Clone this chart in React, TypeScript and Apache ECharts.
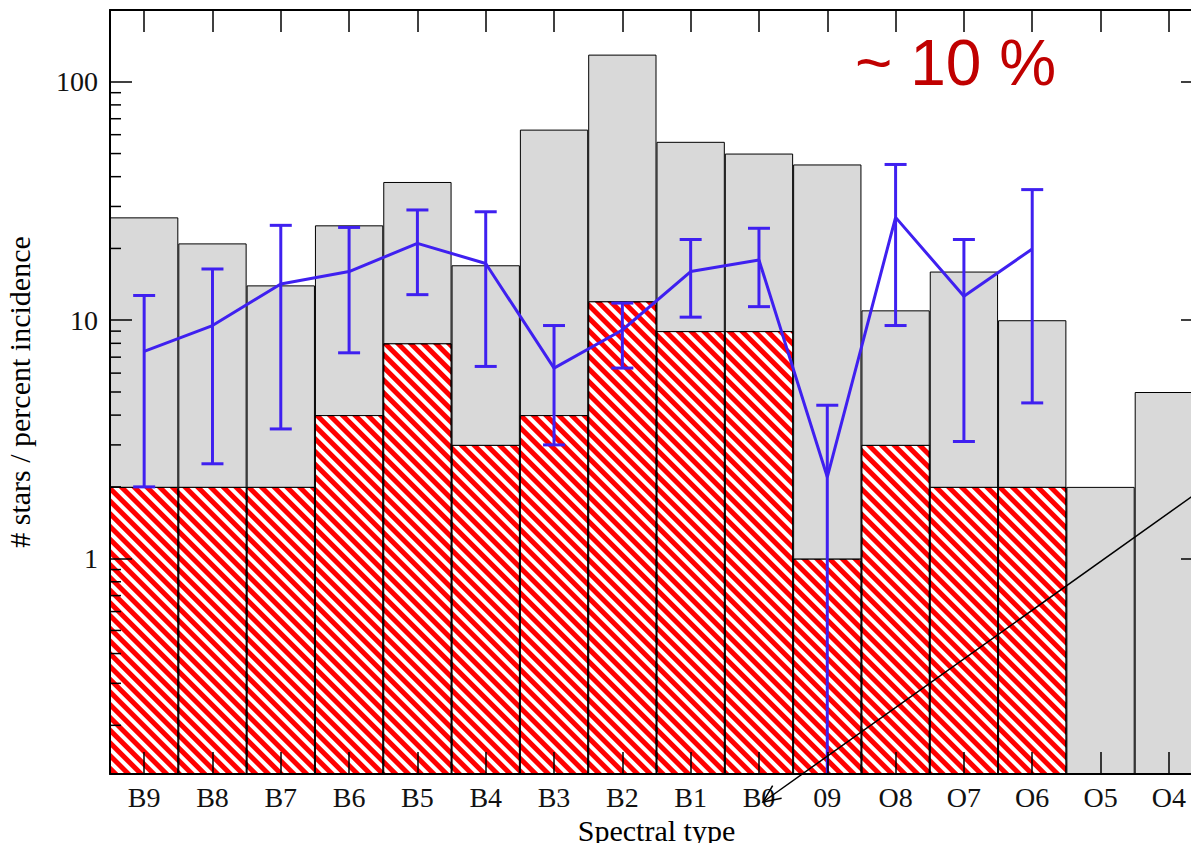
import React, { useEffect, useRef } from "react";
import * as echarts from "echarts";

// ---- data ----
const categories = ["B9", "B8", "B7", "B6", "B5", "B4", "B3", "B2", "B1", "B0", "09", "O8", "O7", "O6", "O5", "O4"];
const totalStars = [27, 21, 14, 25, 38, 17, 63, 130, 56, 50, 45, 11, 16, 10, 2, 5];
const hatchedStars = [2, 2, 2, 4, 8, 3, 4, 12, 9, 9, 1, 3, 2, 2, null, null];
const percentIncidence = [7.4, 9.5, 14.2, 16, 21, 17.3, 6.3, 9.1, 16, 17.9, 2.2, 27, 12.6, 19.9, null, null];
const errorLow = [2.0, 2.5, 3.5, 7.3, 12.8, 6.4, 3.0, 6.3, 10.3, 11.4, 0, 9.5, 3.1, 4.5, null, null];
const errorHigh = [12.7, 16.4, 25, 24.5, 29, 28.5, 9.5, 11.8, 21.8, 24.3, 4.4, 45, 21.8, 35.3, null, null];
const yMajorTicks = [1, 10, 100];
const yMinorTicks = [0.2, 0.3, 0.4, 0.5, 0.6, 0.7, 0.8, 0.9, 2, 3, 4, 5, 6, 7, 8, 9, 20, 30, 40, 50, 60, 70, 80, 90];
const Y_MIN = 0.125;
const Y_MAX = 200;

const SERIF = "'Liberation Serif', 'Times New Roman', serif";
const BLUE = "#3f20f0";
const GREY = "#d9d9d9";

// The plotted frame is wider than the visible page (cropped on the right).
const CHART_W = 1215;
const CHART_H = 843;

export default function App() {
  const ref = useRef<HTMLDivElement>(null);

  useEffect(() => {
    const chart = echarts.init(ref.current as HTMLDivElement, null, { renderer: "svg" });

    const isMajor = (v: number) => yMajorTicks.some((m) => Math.abs(v - m) / m < 1e-6);

    const errData = categories
      .map((_, i) => (errorHigh[i] == null ? null : [i, errorLow[i], errorHigh[i]]))
      .filter((d) => d !== null);

    const xAxisCommon = {
      type: "category",
      data: categories,
      boundaryGap: true,
      z: 10,
      axisLine: { show: true, lineStyle: { color: "#000", width: 2 } },
      axisTick: { show: true, inside: true, alignWithLabel: true, length: 22, lineStyle: { color: "#000", width: 1.5 } },
      splitLine: { show: false },
    };
    const yAxisCommon = {
      type: "log",
      logBase: 10,
      min: Y_MIN,
      max: Y_MAX,
      startValue: Y_MIN,
      z: 10,
      axisLine: { show: true, lineStyle: { color: "#000", width: 2 } },
      axisTick: { show: true, inside: true, length: 22, lineStyle: { color: "#000", width: 1.5 } },
      splitLine: { show: false },
      minorTick: { show: false },
    };

    const option: any = {
      animation: false,
      backgroundColor: "#fff",
      grid: { left: 110, top: 10, bottom: 69, right: 12, containLabel: false, outerBoundsMode: "none" },
      xAxis: [
        {
          ...xAxisCommon,
          position: "bottom",
          name: "Spectral type",
          nameLocation: "middle",
          nameGap: 39,
          nameTextStyle: { fontFamily: SERIF, fontSize: 30, color: "#000" },
          axisLabel: { show: true, fontFamily: SERIF, fontSize: 28, color: "#111", margin: 9 },
        },
        {
          ...xAxisCommon,
          position: "top",
          axisLabel: { show: false },
        },
      ],
      yAxis: [
        {
          ...yAxisCommon,
          position: "left",
          name: "# stars / percent incidence",
          nameLocation: "middle",
          nameGap: 76,
          nameTextStyle: { fontFamily: SERIF, fontSize: 30, color: "#000" },
          axisLabel: {
            show: true,
            fontFamily: SERIF,
            fontSize: 28,
            color: "#111",
            margin: 12,
            formatter: (v: number) => (isMajor(v) ? String(Math.round(v)) : ""),
          },
        },
        {
          ...yAxisCommon,
          position: "right",
          axisLabel: { show: false },
        },
      ],
      series: [
        {
          name: "total",
          type: "bar",
          xAxisIndex: 0,
          yAxisIndex: 0,
          data: totalStars,
          barGap: "-100%",
          barCategoryGap: "0%",
          z: 2,
          itemStyle: { color: GREY, borderColor: "#000", borderWidth: 1 },
        },
        {
          name: "hatched",
          type: "bar",
          xAxisIndex: 0,
          yAxisIndex: 0,
          data: hatchedStars,
          barGap: "-100%",
          barCategoryGap: "0%",
          z: 3,
          itemStyle: {
            color: "#ff0000",
            borderColor: "#000",
            borderWidth: 1,
            decal: {
              symbol: "rect",
              symbolSize: 1,
              color: "#ffffff",
              dashArrayX: [1, 0],
              dashArrayY: [4, 5],
              rotation: Math.PI / 4,
            },
          },
        },
        {
          name: "percent",
          type: "line",
          xAxisIndex: 0,
          yAxisIndex: 0,
          data: percentIncidence,
          symbol: "none",
          connectNulls: false,
          z: 6,
          lineStyle: { color: BLUE, width: 3 },
        },
        {
          name: "errors",
          type: "custom",
          xAxisIndex: 0,
          yAxisIndex: 0,
          z: 7,
          silent: true,
          encode: { x: 0, y: [1, 2] },
          data: errData,
          renderItem: (params: any, api: any) => {
            const cs = params.coordSys;
            const idx = api.value(0);
            const lowV = api.value(1);
            const highV = api.value(2);
            const top = api.coord([idx, highV]);
            const x = top[0];
            const yHigh = top[1];
            const yLow = lowV > 0 ? api.coord([idx, lowV])[1] : cs.y + cs.height;
            const half = 11;
            const st = { stroke: BLUE, lineWidth: 3 };
            const children: any[] = [
              { type: "line", shape: { x1: x, y1: yHigh, x2: x, y2: yLow }, style: st },
              { type: "line", shape: { x1: x - half, y1: yHigh, x2: x + half, y2: yHigh }, style: st },
            ];
            if (lowV > 0) {
              children.push({ type: "line", shape: { x1: x - half, y1: yLow, x2: x + half, y2: yLow }, style: st });
            }
            return { type: "group", children };
          },
        },
        {
          name: "minorTicks",
          type: "custom",
          xAxisIndex: 0,
          yAxisIndex: 0,
          z: 9,
          silent: true,
          data: [[0, 1]],
          renderItem: (params: any, api: any) => {
            const cs = params.coordSys;
            const children: any[] = [];
            yMinorTicks.forEach((v) => {
              if (v <= Y_MIN || v >= Y_MAX) return;
              const y = api.coord([0, v])[1];
              children.push({
                type: "line",
                shape: { x1: cs.x, y1: y, x2: cs.x + 11, y2: y },
                style: { stroke: "#000", lineWidth: 1.5 },
              });
              children.push({
                type: "line",
                shape: { x1: cs.x + cs.width - 11, y1: y, x2: cs.x + cs.width, y2: y },
                style: { stroke: "#000", lineWidth: 1.5 },
              });
            });
            return { type: "group", children };
          },
        },
      ],
    };

    // annotation arrow (pointing at the B0 label)
    const tip = [763, 802];
    const tail = [1215, 480];
    const ang = Math.atan2(tail[1] - tip[1], tail[0] - tip[0]);
    const armLen = 19;
    const spread = (24 * Math.PI) / 180;
    const arm1 = [tip[0] + armLen * Math.cos(ang + spread), tip[1] + armLen * Math.sin(ang + spread)];
    const arm2 = [tip[0] + armLen * Math.cos(ang - spread), tip[1] + armLen * Math.sin(ang - spread)];

    option.graphic = [
      {
        type: "text",
        z: 100,
        style: {
          text: "~ 10 %",
          x: 855,
          y: 63,
          fill: "#c00000",
          font: "64px 'Liberation Sans', Arial, sans-serif",
          align: "left",
          verticalAlign: "middle",
        },
      },
      {
        type: "line",
        z: 100,
        shape: { x1: tail[0], y1: tail[1], x2: tip[0], y2: tip[1] },
        style: { stroke: "#000", lineWidth: 1.5 },
      },
      {
        type: "polyline",
        z: 100,
        shape: { points: [arm1, tip, arm2] },
        style: { stroke: "#000", lineWidth: 1.5, fill: null },
      },
    ];

    chart.setOption(option);
    return () => chart.dispose();
  }, []);

  return (
    <div
      style={{ position: "fixed", left: 0, top: 0, width: 1191, height: 843, overflow: "hidden", background: "#fff" }}
    >
      <div ref={ref} style={{ width: CHART_W, height: CHART_H }} />
    </div>
  );
}
